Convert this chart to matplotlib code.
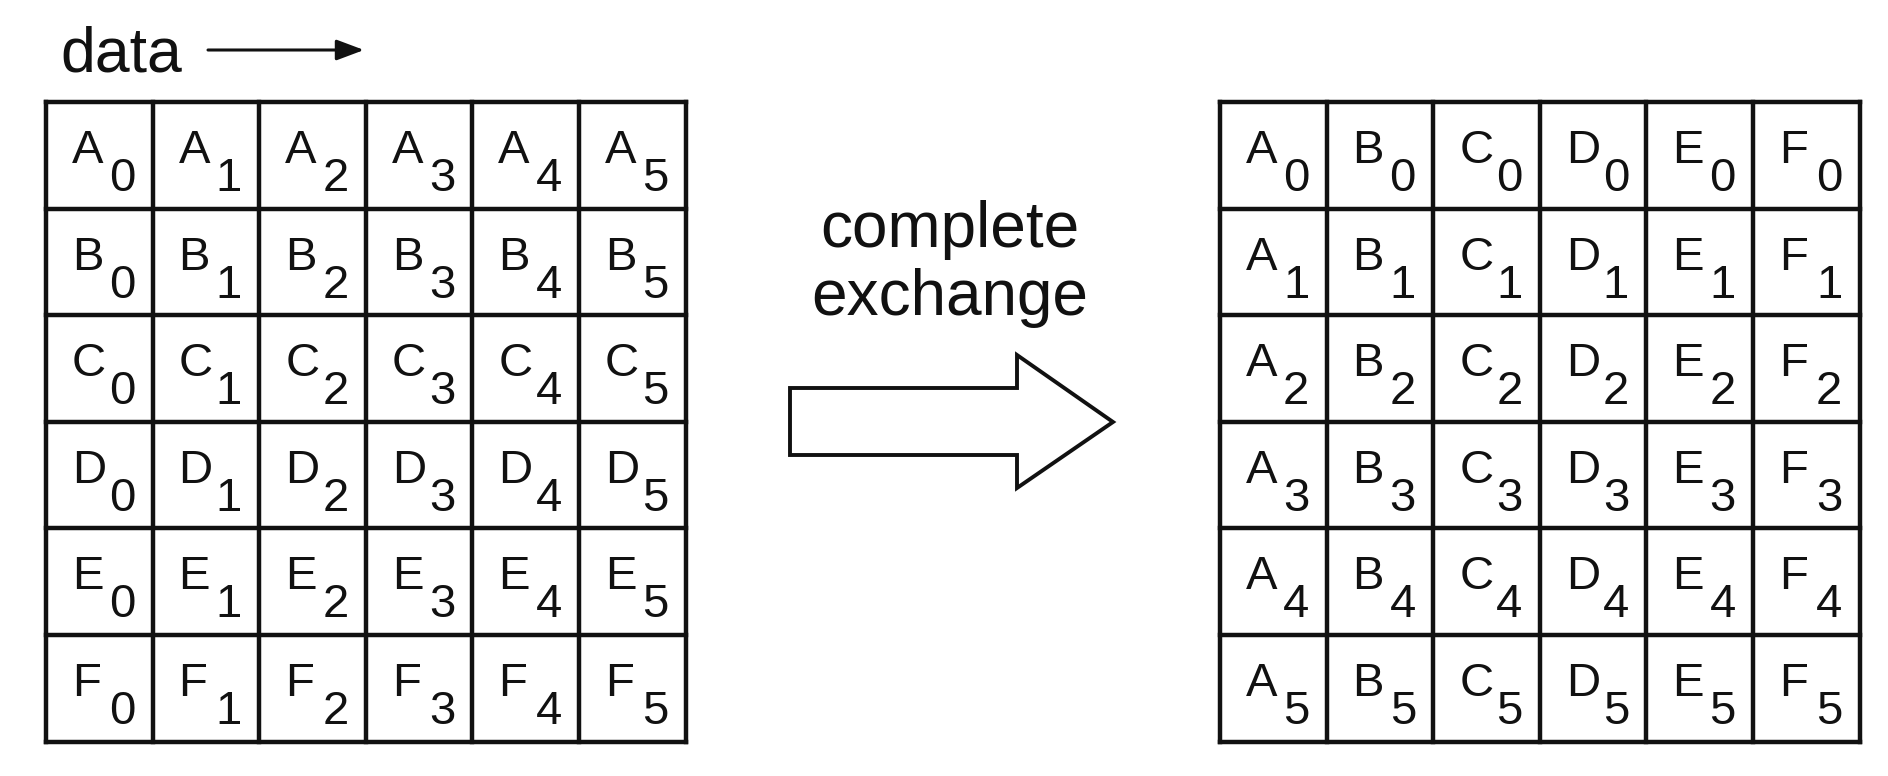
import matplotlib
matplotlib.use("Agg")
import matplotlib.pyplot as plt
from matplotlib.patches import Polygon, FancyArrowPatch

plt.rcParams['font.family'] = ['Liberation Sans', 'DejaVu Sans']

# ---- content ----
row_letters = ['A', 'B', 'C', 'D', 'E', 'F']
col_indices = ['0', '1', '2', '3', '4', '5']
title_text = "data"
middle_text = ["complete", "exchange"]

# ---- layout (pixels) ----
W, H = 1888, 776
cell = 106.6
grid_top = 102
left_x0 = 46
right_x0 = 1220
n = len(row_letters)

fig = plt.figure(figsize=(W / 100, H / 100), dpi=100)
ax = fig.add_axes([0, 0, 1, 1])
ax.set_xlim(0, W)
ax.set_ylim(H, 0)
ax.axis('off')

lw = 3.2
cell_fs = 34
ink = '#111111'


def draw_grid(x0, label_fn):
    for i in range(n + 1):
        ax.plot([x0 + i * cell, x0 + i * cell], [grid_top, grid_top + n * cell],
                color=ink, lw=lw, solid_capstyle='projecting')
        ax.plot([x0, x0 + n * cell], [grid_top + i * cell, grid_top + i * cell],
                color=ink, lw=lw, solid_capstyle='projecting')
    for r in range(n):
        for c in range(n):
            letter, idx = label_fn(r, c)
            cx = x0 + c * cell
            cy = grid_top + r * cell
            ax.text(cx + 26, cy + 61, letter, fontsize=cell_fs, ha='left',
                    va='baseline', color=ink)
            ax.text(cx + 63, cy + 89, idx, fontsize=cell_fs, ha='left',
                    va='baseline', color=ink)


# left: rows are processes A..F, columns are data blocks 0..5
draw_grid(left_x0, lambda r, c: (row_letters[r], col_indices[c]))
# right: transposed after complete exchange
draw_grid(right_x0, lambda r, c: (row_letters[c], col_indices[r]))

# "data ->" label
ax.text(60, 72, title_text, fontsize=45, ha='left', va='baseline', color=ink)
arr = FancyArrowPatch((208, 50), (364, 50), arrowstyle='-|>,head_length=1.2,head_width=0.45',
                      mutation_scale=14, color=ink, lw=2.2, shrinkA=0, shrinkB=0)
ax.add_patch(arr)

# middle text
ax.text(950, 247, middle_text[0], fontsize=46, ha='center', va='baseline', color=ink)
ax.text(950, 315, middle_text[1], fontsize=46, ha='center', va='baseline', color=ink)

# block arrow
block = Polygon([(790, 388), (1017, 388), (1017, 355), (1113, 422),
                 (1017, 488), (1017, 455), (790, 455)],
                closed=True, facecolor='white', edgecolor=ink, lw=2.8,
                joinstyle='miter')
ax.add_patch(block)

fig.savefig('out.png', dpi=100, facecolor='white')
